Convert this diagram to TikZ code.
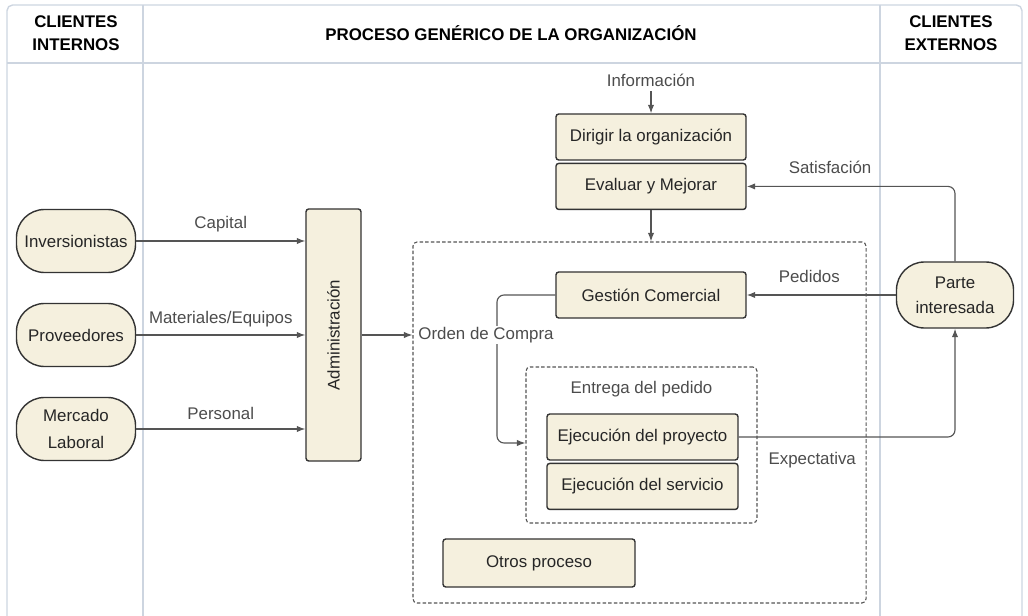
\documentclass[tikz,border=0pt]{standalone}
\usepackage{fontspec}
\setmainfont{Liberation Sans}
\usepackage{graphicx}
\usepackage{tikz}
\usetikzlibrary{arrows.meta, positioning, calc}
\definecolor{creamfill}{HTML}{F5F0DE}
\definecolor{boxline}{HTML}{333333}
\definecolor{laneline}{HTML}{CDD5E0}
\definecolor{flowgray}{HTML}{555555}

\begin{document}
\begin{tikzpicture}[
  x=0.025cm, y=-0.025cm,
  node distance=0.05cm,
  lane/.style={draw=laneline, line width=1pt},
  header/.style={font=\fontsize{12}{16}\selectfont\bfseries, align=center, text=black},
  client/.style={rectangle, rounded corners=0.7cm, draw=boxline, line width=1pt, fill=creamfill, minimum width=2.975cm, minimum height=1.575cm, align=center, font=\fontsize{12}{19}\selectfont, text=black!85},
  block/.style={rectangle, rounded corners=2pt, draw=boxline, line width=1pt, fill=creamfill, minimum width=4.75cm, minimum height=1.15cm, font=\fontsize{12}{14}\selectfont, text=black!85},
  group/.style={rectangle, rounded corners=3pt, draw=flowgray, dash pattern=on 2.5pt off 1.5pt, line width=0.8pt},
  lbl/.style={font=\fontsize{12}{14}\selectfont, text=black!70},
  arrow/.style={-{Latex[length=6pt, width=4.5pt]}, draw=flowgray, line width=0.8pt}
]
  \clip (0,0) rectangle (1028,616);

  \draw[lane, rounded corners=4pt] (7,5) rectangle (1022,640);
  \draw[lane] (7,63) -- (1022,63);
  \draw[lane] (143,5) -- (143,640);
  \draw[lane] (880,5) -- (880,640);

  \node[header] (hintern) at (76,33) {CLIENTES\\INTERNOS};
  \node[header] (hproc) at (511,33) {PROCESO GENÉRICO DE LA ORGANIZACIÓN};
  \node[header] (hextern) at (951,33) {CLIENTES\\EXTERNOS};

  \node[client] (inv) at (76,241) {Inversionistas};
  \node[client] (prov) at (76,335) {Proveedores};
  \node[client] (merc) at (76,429) {Mercado\\Laboral};
  \node[block, minimum width=1.375cm, minimum height=6.3cm] (admin) at (333.5,335) {\rotatebox{90}{Administración}};

  \node[group, minimum width=11.325cm, minimum height=9.025cm] (proceso) at (639.5,422.5) {};
  \node[group, minimum width=5.775cm, minimum height=3.9cm] (entrega) at (641.5,445) {};
  \node[lbl, below=0.25cm of entrega.north] (entregalbl) {Entrega del pedido};

  \node[lbl] (info) at (651,80) {Información};
  \node[block] (dirigir) at (651,137) {Dirigir la organización};
  \node[block, below=of dirigir] (evaluar) {Evaluar y Mejorar};
  \node[block] (gestion) at (651,295) {Gestión Comercial};
  \node[block, minimum width=4.775cm] (proyecto) at (642.5,437) {Ejecución del proyecto};
  \node[block, minimum width=4.775cm, below=of proyecto] (servicio) {Ejecución del servicio};
  \node[block, minimum width=4.8cm, minimum height=1.2cm] (otros) at (539,563) {Otros proceso};
  \node[client, minimum width=2.925cm, minimum height=1.65cm, font=\fontsize{12}{18}\selectfont] (parte) at (955,295) {Parte\\interesada};

  \coordinate (ocbend) at (497,443);

  \draw[arrow] (inv) -- node[lbl, above=3pt] {Capital} (inv -| admin.west);
  \draw[arrow] (prov) -- node[lbl, above=2pt] {Materiales/Equipos} (prov -| admin.west);
  \draw[arrow] (merc) -- node[lbl, above=3pt] {Personal} (merc -| admin.west);
  \draw[arrow] (admin) -- (admin -| proceso.west);
  \draw[arrow] (info) -- (dirigir);
  \draw[arrow] (evaluar.south) -- (evaluar.south |- proceso.north);
  \draw[arrow, rounded corners=5pt] (parte.north) |- node[lbl, above=5pt, pos=0.8] {Satisfación} (evaluar.east);
  \draw[arrow] (parte.west) -- node[lbl, above=5pt, pos=0.58] {Pedidos} (gestion.east);
  \draw[arrow, rounded corners=5pt] (gestion.west) -| (ocbend) -- (ocbend -| entrega.west);
  \node[lbl, fill=white, inner sep=1pt] (orden) at (486,335) {Orden de Compra};
  \draw[arrow, rounded corners=5pt] (proyecto.east) -| node[lbl, below=7pt, pos=0.17] {Expectativa} (parte.south);
\end{tikzpicture}
\end{document}
